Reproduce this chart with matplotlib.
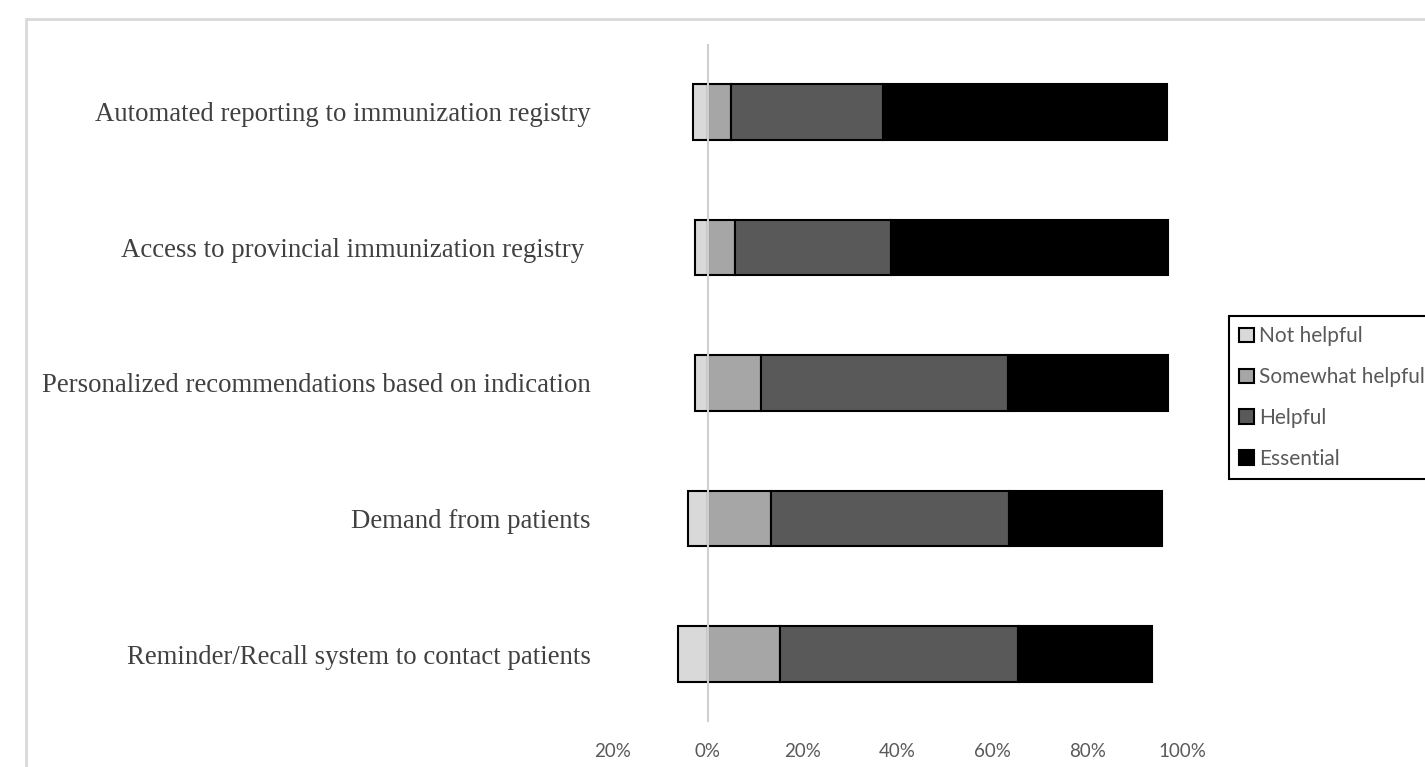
import matplotlib
matplotlib.use("Agg")
import matplotlib.pyplot as plt
from matplotlib.patches import Rectangle
import numpy as np

# Survey items, top to bottom
categories = [
    "Automated reporting to immunization registry",
    "Access to provincial immunization registry ",
    "Personalized recommendations based on indication",
    "Demand from patients",
    "Reminder/Recall system to contact patients",
]

# Share of respondents (%) per rating
not_helpful = [3.2, 2.7, 2.7, 4.1, 6.2]
somewhat_helpful = [4.8, 5.8, 11.2, 13.3, 15.2]
helpful = [32.0, 32.7, 52.1, 50.1, 50.1]
essential = [59.9, 58.5, 33.7, 32.2, 28.2]

series_names = ["Not helpful", "Somewhat helpful", "Helpful", "Essential"]
series_colors = ["#d9d9d9", "#a6a6a6", "#595959", "#000000"]

x_ticks = [-20, 0, 20, 40, 60, 80, 100]
x_tick_labels = ["20%", "0%", "20%", "40%", "60%", "80%", "100%"]

W, H = 1425, 767
fig = plt.figure(figsize=(W / 100, H / 100), dpi=100)

# outer chart-area border (runs off the right and bottom edges)
fig.add_artist(Rectangle((26 / W, -0.05), 1.0, 1 - 19 / H + 0.05,
                         transform=fig.transFigure, fill=False,
                         edgecolor="#d9d9d9", linewidth=2))

ax = fig.add_axes([612.7 / W, 1 - 722 / H, 570 / W, 678 / H])

y = np.arange(len(categories))
nh = np.array(not_helpful)
sh = np.array(somewhat_helpful)
hp = np.array(helpful)
es = np.array(essential)

# "Not helpful" sits on the negative side, the rest stack from zero
lefts = [-nh, np.zeros_like(sh), sh, sh + hp]
widths = [nh, sh, hp, es]
bar_h = 0.41
for name, color, left, width in zip(series_names, series_colors, lefts, widths):
    ax.barh(y, width, left=left, height=bar_h, color=color,
            edgecolor="black", linewidth=1.5, label=name, zorder=2)

# vertical axis line at 0, drawn over the bars
ax.axvline(0, color="#d0d0d0", linewidth=1.5, zorder=3)

ax.set_xlim(-20, 100)
ax.set_ylim(len(categories) - 0.5, -0.5)
ax.set_xticks(x_ticks)
ax.set_xticklabels(x_tick_labels, fontfamily="Lato", fontsize=13.5, color="#595959")
ax.set_yticks(y)
ax.set_yticklabels(categories, fontfamily="Liberation Serif", fontsize=19.3,
                   color="#404040")
ax.tick_params(axis="both", length=0)
ax.tick_params(axis="x", pad=15)
ax.tick_params(axis="y", pad=16)
for s in ax.spines.values():
    s.set_visible(False)
ax.patch.set_alpha(0)

handles, labels = ax.get_legend_handles_labels()
leg = fig.legend(handles, labels, loc="upper left",
                 bbox_to_anchor=(1229 / W, 1 - 316 / H),
                 bbox_transform=fig.transFigure, borderaxespad=0,
                 prop={"family": "Lato", "size": 15}, frameon=True,
                 fancybox=False, edgecolor="black", framealpha=1,
                 handlelength=0.7, handleheight=0.7, handletextpad=0.25,
                 labelspacing=1.0, borderpad=0.5)
leg.get_frame().set_linewidth(1.5)
for t in leg.get_texts():
    t.set_color("#595959")

fig.savefig("out.png", dpi=100)
